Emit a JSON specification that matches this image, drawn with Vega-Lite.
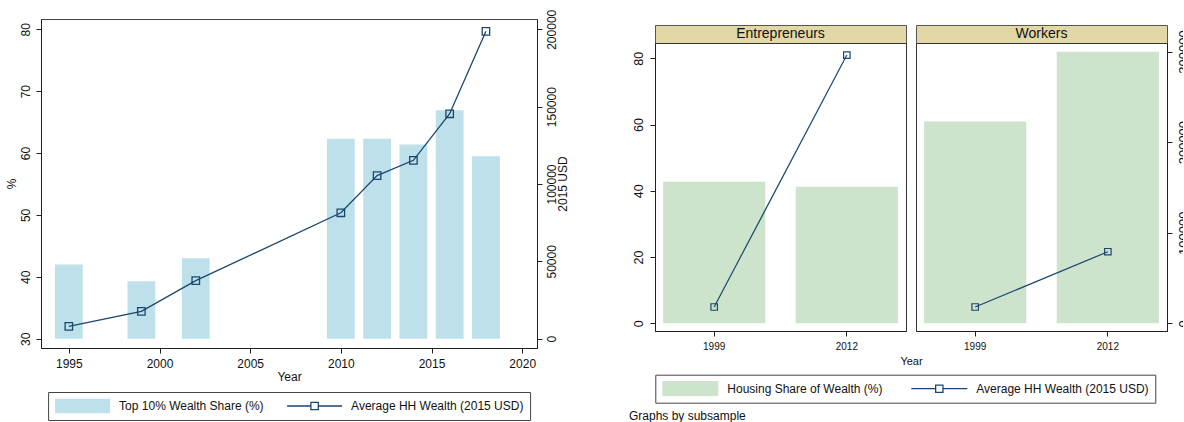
{
  "$schema": "https://vega.github.io/schema/vega-lite/v6.json",
  "background": "white",
  "padding": {"left": 4, "top": 8, "right": -8, "bottom": 0},
  "config": {
    "font": "Liberation Sans",
    "view": {"stroke": null},
    "axis": {"grid": false, "domainColor": "#1f1f1f", "domainWidth": 1, "tickColor": "#1f1f1f", "tickWidth": 1, "tickSize": 5, "labelColor": "#111", "titleColor": "#111", "labelFontSize": 12, "titleFontSize": 12, "titleFontWeight": "normal", "labelPadding": 5, "labelOverlap": false, "labelFlush": false},
    "legend": {"labelFont": "Liberation Sans", "labelColor": "#111"}
  },
  "datasets": {
    "wealth_trend": [
      {"year": 1995, "top10_share": 42.0, "avg_wealth": 8000},
      {"year": 1999, "top10_share": 39.3, "avg_wealth": 17700},
      {"year": 2002, "top10_share": 43.0, "avg_wealth": 37500},
      {"year": 2010, "top10_share": 62.3, "avg_wealth": 81400},
      {"year": 2012, "top10_share": 62.3, "avg_wealth": 105400},
      {"year": 2014, "top10_share": 61.4, "avg_wealth": 115300},
      {"year": 2016, "top10_share": 66.9, "avg_wealth": 145400},
      {"year": 2018, "top10_share": 59.5, "avg_wealth": 198700}
    ],
    "by_subsample": [
      {"subsample": "Entrepreneurs", "year": 1999, "housing_share": 42.7, "avg_wealth": 18000},
      {"subsample": "Entrepreneurs", "year": 2012, "housing_share": 41.2, "avg_wealth": 296100},
      {"subsample": "Workers", "year": 1999, "housing_share": 60.9, "avg_wealth": 18000},
      {"subsample": "Workers", "year": 2012, "housing_share": 82.0, "avg_wealth": 79000}
    ]
  },
  "bounds": "flush",
  "spacing": 118,
  "resolve": {"scale": {"fill": "independent"}, "legend": {"fill": "independent"}},
  "hconcat": [
    {
      "width": 496,
      "height": 329,
      "data": {"name": "wealth_trend"},
      "view": {"stroke": "#444", "strokeWidth": 1},
      "layer": [
        {
          "mark": {"type": "bar", "size": 27.8},
          "encoding": {
            "x": {"field": "year", "type": "quantitative", "scale": {"domain": [1993.741, 2020.54], "nice": false, "zero": false}, "axis": {"values": [1995, 2000, 2005, 2010, 2015, 2020], "format": "d", "title": "Year", "titlePadding": 2}},
            "y": {"field": "top10_share", "type": "quantitative", "scale": {"domain": [28.5, 81.66], "nice": false, "zero": false}, "axis": {"values": [30, 40, 50, 60, 70, 80], "labelAngle": 270, "labelPadding": 4, "title": "%", "titleAngle": 270, "titlePadding": 1}},
            "y2": {"datum": 30},
            "fill": {
              "datum": "Top 10% Wealth Share (%)",
              "type": "nominal",
              "scale": {"domain": ["Top 10% Wealth Share (%)", "Average HH Wealth (2015 USD)"], "range": ["#bde0ea", "transparent"]},
              "legend": {
                "orient": "none", "legendX": 7.1, "legendY": 373,
                "direction": "horizontal", "title": null,
                "symbolSize": 3025, "clipHeight": 16, "labelOffset": 8, "columnPadding": 22, "padding": 6,
                "strokeColor": "#444", "fillColor": "white",
                "labelFontSize": 12, "labelLimit": 400, "symbolStrokeWidth": 1.3,
                "encode": {
                  "symbols": {
                    "update": {
                      "shape": {"signal": "datum.value === 'Top 10% Wealth Share (%)' ? 'M-1,-0.265H1V0.265H-1Z' : 'M-1,0H-0.135M0.135,0H1M-0.135,-0.135H0.135V0.135H-0.135Z'"},
                      "fill": {"signal": "datum.value === 'Top 10% Wealth Share (%)' ? '#bde0ea' : 'transparent'"},
                      "stroke": {"signal": "datum.value === 'Top 10% Wealth Share (%)' ? 'transparent' : '#1a476f'"},
                      "strokeWidth": {"value": 1.3},
                      "opacity": {"value": 1}
                    }
                  }
                }
              }
            }
          }
        },
        {
          "encoding": {
            "x": {"field": "year", "type": "quantitative"},
            "y": {"field": "avg_wealth", "type": "quantitative", "scale": {"domain": [-6010, 206660], "nice": false, "zero": false}, "axis": {"orient": "right", "values": [0, 50000, 100000, 150000, 200000], "format": "d", "labelAngle": 270, "labelPadding": 4, "title": "2015 USD", "titleAngle": 270, "titleBaseline": "top", "titlePadding": 0}}
          },
          "layer": [
            {"mark": {"type": "line", "color": "#1a476f", "strokeWidth": 1.3}},
            {"mark": {"type": "point", "shape": "square", "filled": false, "size": 56, "strokeWidth": 1.3, "color": "#1a476f", "opacity": 1}}
          ]
        }
      ],
      "resolve": {"scale": {"y": "independent"}}
    },
    {
      "bounds": "flush",
      "columns": 2,
      "spacing": {"row": 0, "column": 10},
      "resolve": {"scale": {"fill": "independent"}, "legend": {"fill": "independent"}},
      "title": {"text": "Graphs by subsample", "orient": "bottom", "anchor": "start", "frame": "group", "dx": -26, "offset": 7, "fontSize": 12, "fontWeight": "normal", "color": "#111"},
      "concat": [
        {
          "width": 251,
          "height": 6,
          "data": {"values": [{"note": ""}]},
          "mark": {"type": "text", "text": ""},
          "encoding": {}
        },
        {
          "width": 251,
          "height": 6,
          "data": {"values": [{"note": ""}]},
          "mark": {"type": "text", "text": ""},
          "encoding": {}
        },
        {
          "width": 251,
          "height": 18,
          "data": {"name": "by_subsample"},
          "transform": [{"filter": "datum.subsample === 'Entrepreneurs' && datum.year === 1999"}],
          "view": {"fill": "#e2d8a5", "stroke": "#555"},
          "mark": {"type": "text", "fontSize": 14, "color": "#111"},
          "encoding": {"text": {"field": "subsample", "type": "nominal"}}
        },
        {
          "width": 251,
          "height": 18,
          "data": {"name": "by_subsample"},
          "transform": [{"filter": "datum.subsample === 'Workers' && datum.year === 1999"}],
          "view": {"fill": "#e2d8a5", "stroke": "#555"},
          "mark": {"type": "text", "fontSize": 14, "color": "#111"},
          "encoding": {"text": {"field": "subsample", "type": "nominal"}}
        },
        {
          "width": 251,
          "height": 288,
          "data": {"name": "by_subsample"},
          "transform": [{"filter": "datum.subsample === 'Entrepreneurs'"}],
          "view": {"stroke": "#333"},
          "encoding": {
            "x": {"field": "year", "type": "ordinal", "scale": {"paddingInner": 0.23, "paddingOuter": 0.061}, "axis": {"labelAngle": 0, "labelFontSize": 10, "title": "Year", "titleX": 256, "titleFontSize": 11, "titlePadding": 4}}
          },
          "layer": [
            {
              "mark": {"type": "bar"},
              "encoding": {
                "y": {"field": "housing_share", "type": "quantitative", "scale": {"domain": [-2.32, 84.62], "nice": false, "zero": false}, "axis": {"values": [0, 20, 40, 60, 80], "labelAngle": 270, "labelFontSize": 12.5, "title": null}},
                "y2": {"datum": 0},
                "fill": {
                  "datum": "Housing Share of Wealth (%)",
                  "type": "nominal",
                  "scale": {"domain": ["Housing Share of Wealth (%)", "Average HH Wealth (2015 USD)"], "range": ["#cde3cc", "transparent"]},
                  "legend": {
                    "orient": "none", "legendX": 0.3, "legendY": 331.7,
                    "direction": "horizontal", "title": null,
                    "symbolSize": 3136, "clipHeight": 15.3, "labelOffset": 8, "columnPadding": 27, "padding": 6,
                    "strokeColor": "#444", "fillColor": "white",
                    "labelFontSize": 12, "labelLimit": 400, "symbolStrokeWidth": 1.3,
                    "encode": {
                      "symbols": {
                        "update": {
                          "shape": {"signal": "datum.value === 'Housing Share of Wealth (%)' ? 'M-1,-0.28H1V0.28H-1Z' : 'M-1,0H-0.13M0.13,0H1M-0.13,-0.13H0.13V0.13H-0.13Z'"},
                          "fill": {"signal": "datum.value === 'Housing Share of Wealth (%)' ? '#cde3cc' : 'transparent'"},
                          "stroke": {"signal": "datum.value === 'Housing Share of Wealth (%)' ? 'transparent' : '#1a476f'"},
                          "strokeWidth": {"value": 1.3},
                          "opacity": {"value": 1}
                        }
                      }
                    }
                  }
                }
              }
            },
            {
              "encoding": {
                "y": {"field": "avg_wealth", "type": "quantitative", "scale": {"domain": [-8500, 309400], "nice": false, "zero": false}, "axis": null}
              },
              "layer": [
                {"mark": {"type": "line", "color": "#1a476f", "strokeWidth": 1.2}},
                {"mark": {"type": "point", "shape": "square", "filled": false, "size": 42, "strokeWidth": 1.2, "color": "#1a476f", "opacity": 1}}
              ]
            }
          ],
          "resolve": {"scale": {"y": "independent"}}
        },
        {
          "width": 251,
          "height": 288,
          "data": {"name": "by_subsample"},
          "transform": [{"filter": "datum.subsample === 'Workers'"}],
          "view": {"stroke": "#333"},
          "encoding": {
            "x": {"field": "year", "type": "ordinal", "scale": {"paddingInner": 0.23, "paddingOuter": 0.061}, "axis": {"labelAngle": 0, "labelFontSize": 10, "title": null}}
          },
          "layer": [
            {
              "mark": {"type": "bar", "color": "#cde3cc"},
              "encoding": {
                "y": {"field": "housing_share", "type": "quantitative", "scale": {"domain": [-2.32, 84.62], "nice": false, "zero": false}, "axis": null},
                "y2": {"datum": 0}
              }
            },
            {
              "encoding": {
                "y": {"field": "avg_wealth", "type": "quantitative", "scale": {"domain": [-8500, 309400], "nice": false, "zero": false}, "axis": {"orient": "right", "values": [0, 100000, 200000, 300000], "format": "d", "labelAngle": 270, "labelFontSize": 13, "title": null}}
              },
              "layer": [
                {"mark": {"type": "line", "color": "#1a476f", "strokeWidth": 1.2}},
                {"mark": {"type": "point", "shape": "square", "filled": false, "size": 42, "strokeWidth": 1.2, "color": "#1a476f", "opacity": 1}}
              ]
            }
          ],
          "resolve": {"scale": {"y": "independent"}}
        }
      ]
    }
  ]
}
